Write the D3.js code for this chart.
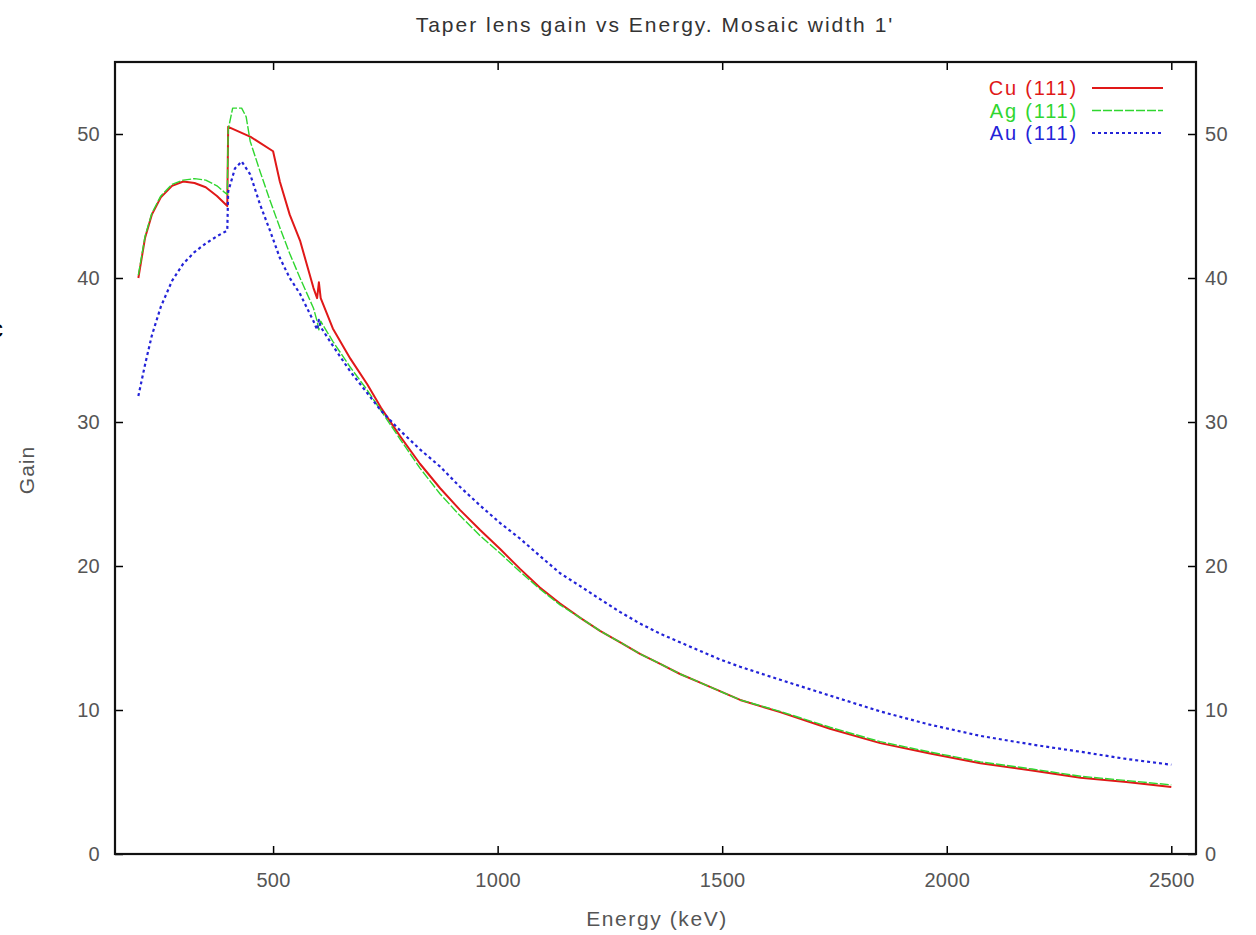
<!DOCTYPE html>
<html>
<meta charset="UTF-8">
<head>
<style>
  body { margin: 0; background: #fff; }
  svg text { font-family: "Liberation Sans", Arial, sans-serif; }
</style>
<script src="https://cdn.jsdelivr.net/npm/d3@7"></script>
</head>
<body>
<div id="chart"></div>
<script>
// values (keV, gain)
var cuEnergy = [200,215,230,250,275,300,325,350,375,398,400,450,500,515,537,560,590,598,602,606,633,672,710,740,783,827,872,916,961,1005,1050,1094,1139,1184,1228,1273,1317,1362,1406,1451,1540,1629,1740,1852,1960,2075,2190,2298,2400,2500];
var cuGain = [40.0,42.8,44.4,45.6,46.4,46.7,46.6,46.3,45.7,45.0,50.5,49.8,48.8,46.7,44.4,42.6,39.3,38.6,39.7,38.6,36.5,34.4,32.6,31.0,29.0,27.1,25.4,23.9,22.5,21.2,19.8,18.5,17.4,16.4,15.5,14.7,13.9,13.2,12.5,11.9,10.7,9.85,8.7,7.7,7.0,6.3,5.8,5.3,5.0,4.65];

var agEnergy = [200,215,230,250,275,300,325,350,375,390,398,400,410,430,440,449,471,493,515,537,560,590,598,602,606,633,672,710,740,783,827,872,916,961,1005,1050,1094,1139,1184,1228,1273,1317,1362,1406,1451,1540,1629,1740,1852,1960,2075,2190,2298,2400,2500];
var agGain = [40.2,42.9,44.5,45.7,46.5,46.8,46.9,46.8,46.4,46.0,45.8,50.3,51.8,51.8,51.2,49.5,47.4,45.4,43.5,41.7,40.0,37.9,37.0,36.4,37.0,35.6,33.8,32.2,30.8,28.8,26.8,25.0,23.5,22.1,20.9,19.6,18.4,17.3,16.4,15.5,14.7,13.9,13.2,12.5,11.9,10.7,9.9,8.8,7.8,7.1,6.4,5.9,5.4,5.1,4.8];

var auEnergy = [200,215,230,250,275,300,325,350,375,398,400,415,430,449,471,493,515,537,560,590,598,602,606,633,672,710,740,783,827,872,916,961,1005,1050,1094,1139,1184,1228,1273,1317,1362,1406,1451,1496,1540,1629,1740,1852,1960,2075,2190,2298,2400,2500];
var auGain = [31.8,34.0,36.0,38.0,39.8,41.0,41.8,42.4,42.9,43.3,46.0,47.6,48.1,47.2,45.1,43.3,41.4,40.0,38.9,37.0,36.4,37.1,36.6,35.3,33.5,32.0,30.8,29.4,28.1,26.9,25.5,24.2,23.0,21.9,20.7,19.5,18.6,17.7,16.8,16.0,15.3,14.7,14.1,13.5,13.0,12.1,11.0,9.9,9.0,8.2,7.6,7.1,6.6,6.2];

var seriesNames = ["Cu (111)", "Ag (111)", "Au (111)"];
var xTicks = [500, 1000, 1500, 2000, 2500];
var yTicks = [0, 10, 20, 30, 40, 50];

var width = 1256;
var height = 935;
var margin = { top: 62, right: 60, bottom: 81, left: 115 };

var svg = d3.select("#chart").append("svg")
  .attr("width", width)
  .attr("height", height);

var xScale = d3.scaleLinear().domain([148, 2555]).range([margin.left, width - margin.right]);
var yScale = d3.scaleLinear().domain([0, 55]).range([height - margin.bottom, margin.top]);

var series = [
  { name: seriesNames[0], e: cuEnergy, g: cuGain, color: "#e01818", w: 2, dash: null },
  { name: seriesNames[1], e: agEnergy, g: agGain, color: "#2fd62f", w: 1.4, dash: "9,2" },
  { name: seriesNames[2], e: auEnergy, g: auGain, color: "#2323d8", w: 2.2, dash: "3,3" }
];

// axes, ticks pointing into the plot
var tickColor = "#555";
var fmt = d3.format("d");
function styleAxis(g) {
  g.select(".domain").remove();
  g.selectAll(".tick line").attr("stroke", "#000").attr("stroke-width", 1.5);
  g.selectAll(".tick text").attr("fill", tickColor).attr("font-size", 20).attr("letter-spacing", 0.3);
}

svg.append("g")
  .attr("transform", `translate(0,${yScale(0)})`)
  .call(d3.axisBottom(xScale).tickValues(xTicks).tickSize(-8).tickPadding(19).tickFormat(fmt))
  .call(styleAxis);

svg.append("g")
  .attr("transform", `translate(0,${margin.top})`)
  .call(d3.axisTop(xScale).tickValues(xTicks).tickSize(-8).tickFormat(""))
  .call(styleAxis);

svg.append("g")
  .attr("transform", `translate(${margin.left},0)`)
  .call(d3.axisLeft(yScale).tickValues(yTicks).tickSize(-8).tickPadding(15).tickFormat(fmt))
  .call(styleAxis);

svg.append("g")
  .attr("transform", `translate(${width - margin.right},0)`)
  .call(d3.axisRight(yScale).tickValues(yTicks).tickSize(-8).tickPadding(9).tickFormat(fmt))
  .call(styleAxis);

// the curves
var line = d3.line()
  .x(d => xScale(d[0]))
  .y(d => yScale(d[1]));

series.forEach(s => {
  var pts = s.e.map((e, i) => [e, s.g[i]]);
  svg.append("path")
    .datum(pts)
    .attr("fill", "none")
    .attr("stroke", s.color)
    .attr("stroke-width", s.w)
    .attr("stroke-dasharray", s.dash)
    .attr("stroke-linejoin", "round")
    .attr("d", line);
});

// frame
svg.append("rect")
  .attr("x", margin.left)
  .attr("y", margin.top)
  .attr("width", width - margin.left - margin.right)
  .attr("height", height - margin.top - margin.bottom)
  .attr("fill", "none")
  .attr("stroke", "#111")
  .attr("stroke-width", 2.2);

// legend
var legendX = 1078;
series.forEach((s, i) => {
  var ly = 88 + i * 22.5;
  svg.append("text")
    .attr("x", legendX)
    .attr("y", ly)
    .attr("dy", "0.35em")
    .attr("text-anchor", "end")
    .attr("font-size", 20)
    .attr("letter-spacing", 1.8)
    .attr("fill", s.color)
    .text(s.name);
  svg.append("line")
    .attr("x1", 1092).attr("x2", 1163)
    .attr("y1", ly).attr("y2", ly)
    .attr("stroke", s.color)
    .attr("stroke-width", s.w)
    .attr("stroke-dasharray", s.dash);
});

// titles
svg.append("text")
  .attr("x", 655)
  .attr("y", 32)
  .attr("text-anchor", "middle")
  .attr("font-size", 21)
  .attr("letter-spacing", 2)
  .attr("fill", "#333")
  .text("Taper lens gain vs Energy. Mosaic width 1'");

svg.append("text")
  .attr("x", 657)
  .attr("y", 926)
  .attr("text-anchor", "middle")
  .attr("font-size", 21)
  .attr("letter-spacing", 1.6)
  .attr("fill", "#555")
  .text("Energy (keV)");

svg.append("text")
  .attr("transform", "translate(34,470) rotate(-90)")
  .attr("text-anchor", "middle")
  .attr("font-size", 21)
  .attr("letter-spacing", 1)
  .attr("fill", "#555")
  .text("Gain");

// clipped glyph at the left border of the picture
svg.append("text")
  .attr("x", -9)
  .attr("y", 337)
  .attr("font-size", 24)
  .attr("fill", "#000")
  .text("c");
</script>
</body>
</html>
